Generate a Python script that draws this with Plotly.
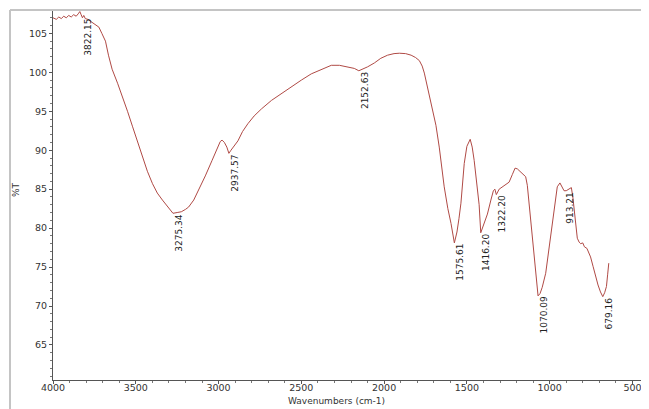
import numpy as np
import plotly.graph_objects as go

# Spectrum (wavenumber cm-1, %T)
wavenumber = [4000, 3980, 3965, 3950, 3935, 3920, 3905, 3890, 3875, 3860, 3848, 3838, 3830,
              3822.15, 3814, 3805, 3790, 3771, 3741, 3723, 3705, 3683, 3665, 3643, 3610,
              3580, 3550, 3519, 3490, 3459, 3430, 3399, 3370, 3339, 3300, 3275.34, 3250,
              3225, 3200, 3181, 3150, 3119, 3080, 3039, 3010, 2990, 2979, 2965, 2950,
              2937.57, 2925, 2905, 2883, 2855, 2823, 2785, 2741, 2680, 2620, 2560, 2500,
              2440, 2379, 2319, 2270, 2219, 2180, 2152.63, 2130, 2100, 2059, 2020, 1979,
              1940, 1908, 1870, 1837, 1810, 1787, 1770, 1757, 1742, 1727, 1707, 1687,
              1667, 1650, 1637, 1615, 1596, 1575.61, 1560, 1548, 1536, 1516, 1500, 1480,
              1468, 1456, 1440, 1426, 1416.20, 1405, 1390, 1376, 1355, 1340, 1331,
              1322.20, 1305, 1285, 1245, 1225, 1209, 1195, 1175, 1145, 1135, 1125, 1110,
              1095, 1080, 1070.09, 1058, 1045, 1024, 1005, 984, 970, 954, 938, 925,
              913.21, 900, 885, 869, 860, 854, 843, 833, 822, 813, 800, 790, 775, 753,
              738, 723, 708, 693, 679.16, 668, 657, 650, 643]
transmittance = [107.0, 106.8, 107.1, 106.9, 107.2, 107.0, 107.3, 107.1, 107.4, 107.2, 107.5, 107.8, 107.4,
                 107.0, 107.3, 106.9, 106.8, 106.5, 106.0, 105.8, 105.0, 104.0, 102.2, 100.4, 98.6,
                 96.9, 95.0, 93.0, 91.1, 89.2, 87.3, 85.7, 84.5, 83.6, 82.5, 81.9, 82.0,
                 82.1, 82.4, 82.7, 83.6, 84.9, 86.7, 88.7, 90.2, 91.1, 91.3, 91.0, 90.4,
                 89.6, 90.0, 90.6, 91.2, 92.4, 93.4, 94.4, 95.3, 96.4, 97.3, 98.2, 99.0,
                 99.8, 100.4, 100.9, 100.9, 100.7, 100.5, 100.2, 100.4, 100.7, 101.2, 101.8, 102.2,
                 102.4, 102.45, 102.4, 102.2, 101.9, 101.5, 100.8, 99.9, 98.5, 96.9, 95.0, 93.2,
                 90.4, 87.5, 85.3, 82.5, 80.6, 78.1, 79.5, 81.2, 83.2, 88.3, 90.5, 91.4,
                 90.4, 88.7, 85.5, 83.0, 79.4, 80.0, 81.0, 81.8, 83.6, 84.8, 85.0,
                 84.3, 85.0, 85.3, 85.9, 86.9, 87.7, 87.6, 87.2, 86.6, 85.5, 83.2, 80.0,
                 76.8, 73.5, 71.3, 71.6, 72.4, 74.2, 77.3, 80.6, 83.0, 85.3, 85.8, 85.3,
                 84.8, 84.8, 85.0, 85.2, 84.0, 82.7, 80.5, 78.7, 78.2, 78.0, 78.1, 77.6, 77.4, 76.3,
                 75.1, 73.8, 72.7, 71.8, 71.2, 71.7, 72.5, 74.0, 75.5]

peak_positions = [3822.15, 3275.34, 2937.57, 2152.63, 1575.61, 1416.20, 1322.20, 1070.09, 913.21, 679.16]
peak_labels = ["3822.15", "3275.34", "2937.57", "2152.63", "1575.61", "1416.20", "1322.20",
               "1070.09", "913.21", "679.16"]

y_ticks = [65, 70, 75, 80, 85, 90, 95, 100, 105]
x_ticks = [4000, 3500, 3000, 2500, 2000, 1500, 1000, 500]

fig = go.Figure()
fig.add_trace(go.Scatter(x=wavenumber, y=transmittance, mode="lines",
                         line=dict(color="#b04a45", width=1), showlegend=False,
                         hoverinfo="x+y"))

wx = np.array(wavenumber[::-1])
wy = np.array(transmittance[::-1])
for px, lab in zip(peak_positions, peak_labels):
    py = float(np.interp(px, wx, wy))
    fig.add_annotation(x=px, y=py, xref="x", yref="y", text=lab, showarrow=False,
                       textangle=-90, xanchor="left", yanchor="top",
                       font=dict(family="DejaVu Sans", size=9, color="#222222"),
                       borderpad=0)

tickfont = dict(family="DejaVu Sans", size=9.5, color="#333333")
fig.update_xaxes(range=[4000, 400], tickvals=x_ticks, ticktext=[str(v) for v in x_ticks],
                 showgrid=False, zeroline=False, showline=True, linecolor="#555555", linewidth=1,
                 ticks="outside", ticklen=3, tickcolor="#555555", tickfont=tickfont,
                 ticklabelstandoff=-4,
                 minor=dict(dtick=100, tick0=0, ticks="outside", ticklen=2, tickcolor="#777777"))
fig.update_yaxes(range=[60.5, 108], tickvals=y_ticks, showgrid=False, zeroline=False,
                 showline=True, linecolor="#555555", linewidth=1,
                 ticks="outside", ticklen=3, tickcolor="#555555", tickfont=tickfont,
                 minor=dict(dtick=1, tick0=0, ticks="outside", ticklen=2, tickcolor="#777777"))

# figure sits 8px inside the page (body margin); plot area 596 x 370
L, T = 45, 2
W, H = 596.0, 370.0
fx0 = (2 - L) / W
fy0 = 1 - (401 - T) / H
fig.add_shape(type="line", xref="paper", yref="paper", x0=fx0, x1=1.0, y0=1.0, y1=1.0,
              line=dict(color="#c4c4c4", width=2))
fig.add_shape(type="line", xref="paper", yref="paper", x0=fx0, x1=fx0, y0=fy0, y1=1.0,
              line=dict(color="#c4c4c4", width=2))

fig.add_annotation(text="Wavenumbers (cm-1)", xref="paper", yref="paper",
                   x=(328 - L) / W, y=1 - (393 - T) / H, showarrow=False,
                   xanchor="center", yanchor="middle",
                   font=dict(family="DejaVu Sans", size=9, color="#333333"))
fig.add_annotation(text="%T", xref="paper", yref="paper",
                   x=(8 - L) / W, y=1 - (182 - T) / H, showarrow=False, textangle=-90,
                   xanchor="center", yanchor="middle",
                   font=dict(family="DejaVu Sans", size=9, color="#333333"))

fig.update_layout(width=641, height=401, margin=dict(l=L, r=0, t=T, b=29),
                  paper_bgcolor="white", plot_bgcolor="white")

fig.write_html("out.html")
